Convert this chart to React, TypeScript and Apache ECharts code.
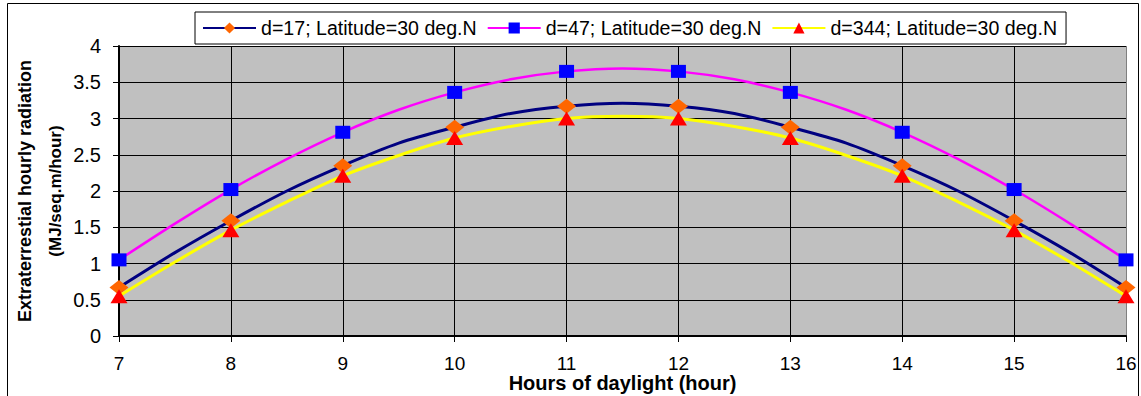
import React, { useEffect, useRef } from "react";
import * as echarts from "echarts";

// Hour of the day (x axis); the curves are sampled every half hour,
// markers sit on the whole hours
const hours = [7, 7.5, 8, 8.5, 9, 9.5, 10, 10.5, 11, 11.5, 12, 12.5, 13, 13.5, 14, 14.5, 15, 15.5, 16];

// Extraterrestrial hourly radiation, MJ/sq.m/hour, latitude 30 deg N
const day17 = [0.67, 1.15, 1.59, 2.0, 2.35, 2.66, 2.88, 3.07, 3.17, 3.21, 3.17, 3.07, 2.88, 2.66, 2.35, 2.0, 1.59, 1.15, 0.67];
const day47 = [1.05, 1.55, 2.02, 2.44, 2.81, 3.12, 3.36, 3.54, 3.65, 3.69, 3.65, 3.54, 3.36, 3.12, 2.81, 2.44, 2.02, 1.55, 1.05];
const day344 = [0.55, 1.02, 1.46, 1.85, 2.21, 2.49, 2.73, 2.89, 3.0, 3.03, 3.0, 2.89, 2.73, 2.49, 2.21, 1.85, 1.46, 1.02, 0.55];

const seriesNames = [
  "d=17; Latitude=30 deg.N",
  "d=47; Latitude=30 deg.N",
  "d=344; Latitude=30 deg.N",
];

const FONT = "'Liberation Sans', Arial, sans-serif";

// whole hours carry a marker, half hours only shape the curve
const points = (ys: number[]) =>
  hours.map((h, i) => (Number.isInteger(h) ? { value: [h, ys[i]] } : { value: [h, ys[i]], symbol: "none" }));

export default function App() {
  const ref = useRef<HTMLDivElement>(null);

  useEffect(() => {
    if (!ref.current) return;
    const chart = echarts.init(ref.current, undefined, { renderer: "svg" });

    // vertical grid lines: black, the last one (plot edge) grey
    const vColors = Array.from({ length: 10 }, (_, i) => (i === 9 ? "#808080" : "#000000"));

    chart.setOption({
      animation: false,
      backgroundColor: "#ffffff",
      textStyle: { fontFamily: FONT },
      graphic: [
        {
          type: "rect",
          silent: true,
          shape: { x: 7.5, y: 3.5, width: 1131, height: 420 },
          style: { fill: "none", stroke: "#000000", lineWidth: 1 },
        },
      ],
      legend: {
        left: 195,
        top: 12,
        padding: [6, 9, 6, 7],
        itemWidth: 53,
        itemHeight: 14,
        itemGap: 10,
        backgroundColor: "#ffffff",
        borderColor: "#000000",
        borderWidth: 1,
        borderRadius: 0,
        textStyle: { fontFamily: FONT, fontSize: 19.6, color: "#000000" },
        data: seriesNames,
      },
      grid: {
        left: 119,
        right: 15,
        top: 46,
        bottom: 60,
        containLabel: false,
        outerBoundsMode: "none",
        show: true,
        backgroundColor: "#C0C0C0",
        borderWidth: 0,
      },
      xAxis: {
        type: "value",
        min: 7,
        max: 16,
        interval: 1,
        name: "Hours of daylight (hour)",
        nameLocation: "middle",
        nameGap: 39,
        nameMoveOverlap: false,
        nameTextStyle: { fontFamily: FONT, fontSize: 20, fontWeight: "bold", color: "#000000", lineHeight: 16 },
        axisLine: { show: true, onZero: false, lineStyle: { color: "#000000", width: 2 } },
        axisTick: { show: true, length: 6, lineStyle: { color: "#000000" } },
        axisLabel: { margin: 20, fontFamily: FONT, fontSize: 19, lineHeight: 14, color: "#000000" },
        splitLine: { show: true, lineStyle: { color: vColors, width: 1 } },
      },
      yAxis: {
        type: "value",
        min: 0,
        max: 4,
        interval: 0.5,
        name: "{a|Extraterrestial hourly radiation}\n{b|(MJ/seq.m/hour)}",
        nameLocation: "middle",
        nameRotate: 90,
        nameGap: 48,
        nameMoveOverlap: false,
        nameTextStyle: {
          fontFamily: FONT,
          fontWeight: "bold",
          color: "#000000",
          rich: {
            a: { fontFamily: FONT, fontSize: 18, fontWeight: "bold", lineHeight: 31, color: "#000000" },
            b: { fontFamily: FONT, fontSize: 17, fontWeight: "bold", lineHeight: 31, color: "#000000" },
          },
        },
        axisLine: { show: true, lineStyle: { color: "#000000", width: 2 } },
        axisTick: { show: true, length: 6, lineStyle: { color: "#000000" } },
        axisLabel: { margin: 18, fontFamily: FONT, fontSize: 20, color: "#000000" },
        splitLine: { show: true, lineStyle: { color: "#000000", width: 1 } },
      },
      series: [
        {
          name: seriesNames[0],
          type: "line",
          smooth: 0.3,
          data: points(day17),
          symbol: "diamond",
          symbolSize: [19, 15],
          lineStyle: { color: "#000080", width: 3 },
          itemStyle: { color: "#FF6600" },
          z: 2,
        },
        {
          name: seriesNames[1],
          type: "line",
          smooth: 0.3,
          data: points(day47),
          symbol: "rect",
          symbolSize: [15, 13],
          lineStyle: { color: "#FF00FF", width: 2.5 },
          itemStyle: { color: "#0000FF" },
          z: 3,
        },
        {
          name: seriesNames[2],
          type: "line",
          smooth: 0.3,
          data: points(day344),
          symbol: "triangle",
          symbolSize: [17, 14],
          lineStyle: { color: "#FFFF00", width: 3 },
          itemStyle: { color: "#FF0000" },
          z: 4,
        },
      ],
    });

    return () => chart.dispose();
  }, []);

  return (
    <div
      ref={ref}
      style={{ position: "absolute", left: 0, top: 0, width: 1141, height: 396, background: "#ffffff" }}
    />
  );
}
